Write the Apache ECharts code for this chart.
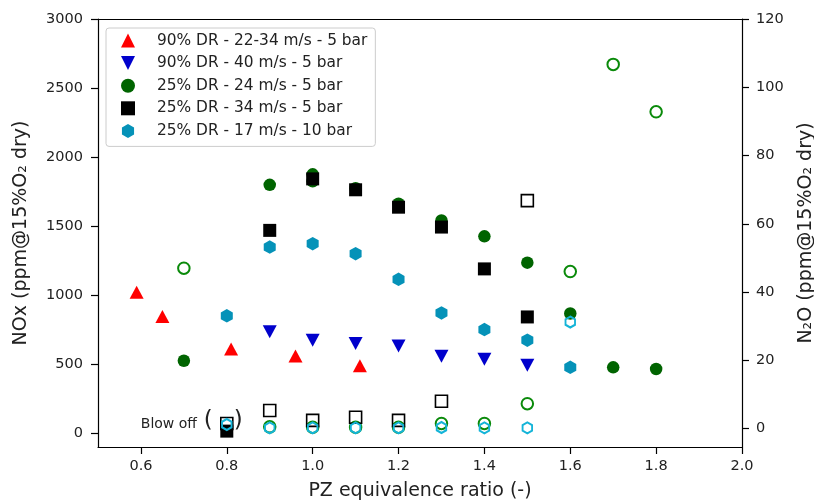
<!DOCTYPE html>
<html><head><meta charset="utf-8">
<script src="https://cdn.jsdelivr.net/npm/echarts@6/dist/echarts.min.js"></script>
<style>html,body{margin:0;padding:0;background:#fff}#c{width:814px;height:500px}</style>
</head><body><div id="c"></div>
<script>
// ---- tick labels ----
const xTicks = [0.6, 0.8, 1.0, 1.2, 1.4, 1.6, 1.8, 2.0];
const noxTicks = [0, 500, 1000, 1500, 2000, 2500, 3000];
const n2oTicks = [0, 20, 40, 60, 80, 100, 120];

// ---- series names ----
const names = [
  '90% DR - 22-34 m/s - 5 bar',
  '90% DR - 40 m/s - 5 bar',
  '25% DR - 24 m/s - 5 bar',
  '25% DR - 34 m/s - 5 bar',
  '25% DR - 17 m/s - 10 bar'
];

// ---- NOx (filled markers, left axis) ----
const redX   = [0.59, 0.65, 0.81, 0.96, 1.11];
const redNOx = [1020, 845, 610, 560, 488];

const blueX   = [0.9, 1.0, 1.1, 1.2, 1.3, 1.4, 1.5];
const blueNOx = [735, 674, 650, 631, 558, 535, 493];

const greenX   = [0.7, 0.9, 1.0, 1.0, 1.1, 1.2, 1.3, 1.4, 1.5, 1.6, 1.7, 1.8];
const greenNOx = [525, 1799, 1875, 1825, 1775, 1662, 1541, 1426, 1235, 867, 477, 465];

const blackX   = [0.8, 0.9, 1.0, 1.1, 1.2, 1.3, 1.4, 1.5];
const blackNOx = [15, 1469, 1842, 1763, 1637, 1493, 1190, 842];

const cyanX   = [0.8, 0.9, 1.0, 1.1, 1.2, 1.3, 1.4, 1.5, 1.6];
const cyanNOx = [850, 1348, 1373, 1300, 1115, 871, 751, 674, 477];

// ---- N2O (open markers, right axis) ----
const greenN2OX = [0.7, 0.9, 1.0, 1.1, 1.2, 1.3, 1.4, 1.5, 1.6, 1.7, 1.8];
const greenN2O  = [47, 0.5, 0.4, 0.4, 0.4, 1.5, 1.5, 7.3, 46, 106.7, 92.8];

const blackN2OX = [0.8, 0.9, 1.0, 1.1, 1.2, 1.3, 1.5];
const blackN2O  = [1.5, 5.3, 2.4, 3.3, 2.4, 8.0, 66.8];

const cyanN2OX = [0.8, 0.9, 1.0, 1.1, 1.2, 1.3, 1.4, 1.5, 1.6];
const cyanN2O  = [1.2, 0.2, 0.2, 0.2, 0.2, 0.3, 0.2, 0.2, 31.2];

const blowOffAt = [0.8, 0];

// ---- helpers ----
const zip = (xs, ys) => xs.map((x, i) => [x, ys[i]]);
const DOWN = 'path://M0,0 L2,0 L1,2 Z';
const HEX = 'path://M0.866,0 L1.732,0.5 L1.732,1.5 L0.866,2 L0,1.5 L0,0.5 Z';
const FONT = 'DejaVu Sans';

const C = {
  red: '#ff0000', blue: '#0000cc', green: '#006400', greenOpen: '#0a8a0a',
  black: '#000000', cyan: '#0592b8', cyanOpen: '#14b4d8'
};

const chart = echarts.init(document.getElementById('c'), null, {renderer: 'canvas'});

const axisCommon = {
  axisLine: {show: true, onZero: false, lineStyle: {color: '#000', width: 1.2}},
  axisTick: {show: true, length: 7, lineStyle: {color: '#000', width: 1.2}},
  splitLine: {show: false},
  axisLabel: {color: '#222', fontFamily: FONT, fontSize: 14.5, formatter: v => String(v)}
};

const option = {
  animation: false,
  backgroundColor: '#fff',
  grid: {left: 98, right: 72, top: 19, bottom: 53, containLabel: false, outerBoundsMode: 'none'},
  legend: {
    orient: 'vertical',
    left: 106, top: 28,
    padding: [5, 8, 8, 15],
    itemWidth: 14, itemHeight: 14, itemGap: 7.6,
    backgroundColor: 'rgba(255,255,255,0.85)',
    borderColor: '#cccccc', borderWidth: 1, borderRadius: 3,
    textStyle: {fontFamily: FONT, fontSize: 15.4, color: '#222', padding: [0, 0, 0, 17]},
    data: names,
    selectedMode: false
  },
  xAxis: [
    Object.assign({}, axisCommon, {
      type: 'value', min: 0.5, max: 2.0, position: 'bottom',
      axisTick: Object.assign({}, axisCommon.axisTick, {customValues: xTicks}),
      axisLabel: Object.assign({}, axisCommon.axisLabel, {customValues: xTicks, margin: 12,
        formatter: v => v.toFixed(1)}),
      name: 'PZ equivalence ratio (-)', nameLocation: 'middle', nameGap: 35,
      nameTextStyle: {fontFamily: FONT, fontSize: 19, color: '#222'}
    }),
    {
      type: 'value', min: 0.5, max: 2.0, position: 'top',
      axisLine: {show: true, onZero: false, lineStyle: {color: '#000', width: 1.2}},
      axisTick: {show: false}, axisLabel: {show: false}, splitLine: {show: false}
    }
  ],
  yAxis: [
    Object.assign({}, axisCommon, {
      type: 'value', min: -100, max: 3000, position: 'left',
      axisTick: Object.assign({}, axisCommon.axisTick, {customValues: noxTicks}),
      axisLabel: Object.assign({}, axisCommon.axisLabel, {customValues: noxTicks, margin: 15}),
      name: 'NOx (ppm@15%O₂ dry)', nameLocation: 'middle', nameGap: 67,
      nameTextStyle: {fontFamily: FONT, fontSize: 19, color: '#222'}
    }),
    Object.assign({}, axisCommon, {
      type: 'value', min: -5.4, max: 120, position: 'right',
      axisTick: Object.assign({}, axisCommon.axisTick, {customValues: n2oTicks}),
      axisLabel: Object.assign({}, axisCommon.axisLabel, {customValues: n2oTicks, margin: 14}),
      name: 'N₂O (ppm@15%O₂ dry)', nameLocation: 'middle', nameGap: 55,
      nameTextStyle: {fontFamily: FONT, fontSize: 19, color: '#222'}
    })
  ],
  series: [
    {name: names[0], type: 'scatter', yAxisIndex: 0, symbol: 'triangle', symbolSize: [14, 13],
     itemStyle: {color: C.red, opacity: 1}, data: zip(redX, redNOx), z: 2},
    {name: names[1], type: 'scatter', yAxisIndex: 0, symbol: DOWN, symbolSize: [14, 13],
     itemStyle: {color: C.blue, opacity: 1}, data: zip(blueX, blueNOx), z: 2},
    {name: names[2], type: 'scatter', yAxisIndex: 0, symbol: 'circle', symbolSize: 12.5,
     itemStyle: {color: C.green, opacity: 1}, data: zip(greenX, greenNOx), z: 2},
    {name: names[3], type: 'scatter', yAxisIndex: 0, symbol: 'rect', symbolSize: 13,
     itemStyle: {color: C.black, opacity: 1}, data: zip(blackX, blackNOx), z: 2},
    {name: names[4], type: 'scatter', yAxisIndex: 0, symbol: HEX, symbolSize: [12, 13.5],
     itemStyle: {color: C.cyan, opacity: 1}, data: zip(cyanX, cyanNOx), z: 2},
    {name: 'N2O ' + names[2], type: 'scatter', yAxisIndex: 1, symbol: 'circle', symbolSize: 11.5,
     itemStyle: {color: 'rgba(0,0,0,0)', borderColor: C.greenOpen, borderWidth: 2, opacity: 1},
     data: zip(greenN2OX, greenN2O), z: 3},
    {name: 'N2O ' + names[3], type: 'scatter', yAxisIndex: 1, symbol: 'rect', symbolSize: 12,
     itemStyle: {color: 'rgba(0,0,0,0)', borderColor: C.black, borderWidth: 1.6, opacity: 1},
     data: zip(blackN2OX, blackN2O), z: 3},
    {name: 'N2O ' + names[4], type: 'scatter', yAxisIndex: 1, symbol: HEX, symbolSize: [9.5, 11],
     itemStyle: {color: 'rgba(0,0,0,0)', borderColor: C.cyanOpen, borderWidth: 2, opacity: 1},
     data: zip(cyanN2OX, cyanN2O), z: 4}
  ]
};
chart.setOption(option);

// "Blow off" annotation anchored at the data point
const p = chart.convertToPixel({gridIndex: 0}, blowOffAt);
chart.setOption({
  graphic: [
    {type: 'text', left: p[0] - 86, top: p[1] - 16,
     style: {text: 'Blow off', fontFamily: FONT, fontSize: 14, fill: '#222'}},
    {type: 'text', left: p[0] - 23, top: p[1] - 24,
     style: {text: '(', fontFamily: FONT, fontSize: 23, fill: '#222'}},
    {type: 'text', left: p[0] + 7, top: p[1] - 24,
     style: {text: ')', fontFamily: FONT, fontSize: 23, fill: '#222'}}
  ]
});
</script>
</body></html>
